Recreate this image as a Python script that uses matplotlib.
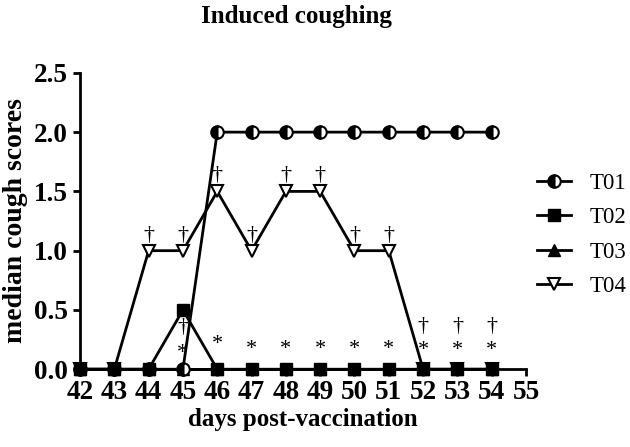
import matplotlib
matplotlib.use("Agg")
import matplotlib.pyplot as plt
import numpy as np

plt.rcParams['font.family'] = ['Liberation Serif', 'DejaVu Serif']

days = [42, 43, 44, 45, 46, 47, 48, 49, 50, 51, 52, 53, 54]
t01 = [0, 0, 0, 0, 2, 2, 2, 2, 2, 2, 2, 2, 2]
t02 = [0, 0, 0, 0.5, 0, 0, 0, 0, 0, 0, 0, 0, 0]
t03 = [0, 0, 0, 0, 0, 0, 0, 0, 0, 0, 0, 0, 0]
t04 = [0, 0, 1, 1, 1.5, 1, 1.5, 1.5, 1, 1, 0, 0, 0]

# significance marks
dagger_days = [44, 45, 46, 47, 48, 49, 50, 51]
dagger_y = [1.13, 1.13, 1.63, 1.13, 1.63, 1.63, 1.13, 1.13]
low_dagger_days = [45, 52, 53, 54]
low_dagger_y = [0.35, 0.36, 0.36, 0.36]
star_days = [45, 46, 47, 48, 49, 50, 51, 52, 53, 54]
star_y = [0.13, 0.21, 0.17, 0.17, 0.17, 0.17, 0.17, 0.16, 0.16, 0.16]

fig = plt.figure(figsize=(6.3, 4.47), dpi=100)
ax = fig.add_axes([0.127, 0.174, 0.708, 0.663])

lw = 2.0
ms = 9
ax.plot(days, t03, color='black', lw=lw, marker='^', ms=ms, mfc='black', mec='black',
        label='T03', zorder=3, clip_on=False)
ax.plot(days, t04, color='black', lw=lw, marker='v', ms=ms, mfc='white', mec='black', mew=1.5,
        label='T04', zorder=4, clip_on=False)
ax.plot(days, t01, color='black', lw=lw, marker='o', ms=ms, fillstyle='left', mfc='black',
        markerfacecoloralt='white', mec='black', mew=1.5, label='T01', zorder=5, clip_on=False)
ax.plot(days, t02, color='black', lw=lw, marker='s', ms=ms, mfc='black', mec='black',
        label='T02', zorder=6, clip_on=False)

for d, y in zip(dagger_days, dagger_y):
    ax.text(d, y, '\u2020', ha='center', va='center', fontsize=16, zorder=7)
for d, y in zip(low_dagger_days, low_dagger_y):
    ax.text(d, y, '\u2020', ha='center', va='center', fontsize=16, zorder=7)
for d, y in zip(star_days, star_y):
    ax.text(d, y, '*', ha='center', va='center', fontsize=16, zorder=7)

ax.set_xlim(42, 55)
ax.set_ylim(0, 2.5)
ax.set_xticks(range(42, 56))
ax.set_yticks([0, 0.5, 1.0, 1.5, 2.0, 2.5])
ax.set_yticklabels(['0.0', '0.5', '1.0', '1.5', '2.0', '2.5'])
ax.spines['top'].set_visible(False)
ax.spines['right'].set_visible(False)
ax.spines['left'].set_linewidth(2)
ax.spines['bottom'].set_linewidth(2)
ax.tick_params(axis='both', direction='out', width=2, length=5, labelsize=19.5)
ax.tick_params(axis='y', pad=4)
ax.tick_params(axis='x', pad=3)
for lab in ax.get_xticklabels() + ax.get_yticklabels():
    lab.set_fontweight('bold')

ax.set_xlabel('days post-vaccination', fontsize=18, fontweight='bold', labelpad=2)
ax.set_ylabel('median cough scores', fontsize=20, fontweight='bold', labelpad=4)
fig.text(0.471, 0.962, 'Induced coughing', ha='center', va='center', fontsize=18, fontweight='bold')

handles, labels = ax.get_legend_handles_labels()
order = [labels.index(l) for l in ['T01', 'T02', 'T03', 'T04']]
leg = fig.legend([handles[i] for i in order], [labels[i] for i in order],
                 loc='center left', bbox_to_anchor=(0.852, 0.474), frameon=False,
                 fontsize=16.5, handlelength=1.5, labelspacing=0.58, handletextpad=0.8,
                 borderpad=0, borderaxespad=0)

fig.savefig('out.png', dpi=100)
